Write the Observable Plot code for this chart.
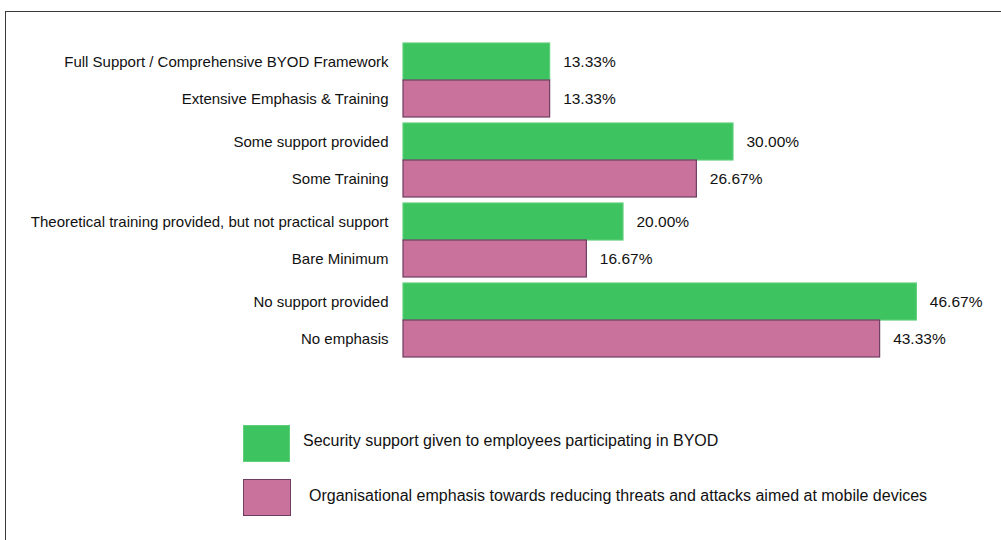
<!DOCTYPE html>
<html>
<head>
<meta charset="utf-8">
<script src="https://cdn.jsdelivr.net/npm/d3@7"></script>
<script src="https://cdn.jsdelivr.net/npm/@observablehq/plot@0.6"></script>
<style>
  html, body { margin: 0; padding: 0; background: #fff; }
  body { width: 1001px; height: 540px; position: relative; overflow: hidden; font-family: "Liberation Sans", Arial, sans-serif; color: #111; }
  #frame { position: absolute; left: 5px; top: 11px; width: 1100px; height: 600px; border-top: 1.5px solid #3a3a3a; border-left: 1.5px solid #3a3a3a; box-sizing: border-box; }
  #chart { position: absolute; left: 0; top: 0; }
  .lg-box { position: absolute; box-sizing: border-box; }
  .lg-text { position: absolute; font-size: 16px; line-height: 1; transform: translateY(-50%); white-space: nowrap; }
</style>
</head>
<body>
<div id="frame"></div>
<div id="chart"></div>
<div class="lg-box" id="box0" style="left:243px;top:425px;width:47px;height:37px;"></div>
<div class="lg-text" id="txt0" style="left:303px;top:441px;"></div>
<div class="lg-box" id="box1" style="left:243px;top:479px;width:48px;height:37px;"></div>
<div class="lg-text" id="txt1" style="left:309px;top:496px;"></div>
<script>
// ---- data ----
const groups = ["g1", "g2", "g3", "g4"];
const seriesNames = [
  "Security support given to employees participating in BYOD",
  "Organisational emphasis towards reducing threats and attacks aimed at mobile devices"
];
const supportLabels = [
  "Full Support / Comprehensive BYOD Framework",
  "Some support provided",
  "Theoretical training provided, but not practical support",
  "No support provided"
];
const emphasisLabels = [
  "Extensive Emphasis & Training",
  "Some Training",
  "Bare Minimum",
  "No emphasis"
];
const supportValues = [13.33, 30.00, 20.00, 46.67];
const emphasisValues = [13.33, 26.67, 16.67, 43.33];
const fills = ["#3dc35f", "#c9739c"];
const strokes = ["#5fcf7a", "#6e3d62"];

// ---- table ----
const rows = [];
groups.forEach((g, i) => {
  rows.push({group: g, series: seriesNames[0], label: supportLabels[i], value: supportValues[i]});
  rows.push({group: g, series: seriesNames[1], label: emphasisLabels[i], value: emphasisValues[i]});
});

const chart = Plot.plot({
  width: 1001,
  height: 380,
  marginTop: 42,
  marginBottom: 23,
  marginLeft: 403,
  marginRight: 48,
  style: {fontFamily: "'Liberation Sans', Arial, sans-serif", background: "transparent", overflow: "visible"},
  x: {domain: [0, 50], axis: null},
  y: {domain: seriesNames, axis: null, padding: 0},
  fy: {domain: groups, axis: null, padding: 0.08},
  color: {domain: seriesNames, range: fills},
  marks: [
    Plot.barX(rows, {
      fy: "group", y: "series", x: "value",
      fill: "series",
      stroke: d => d.series === seriesNames[0] ? strokes[0] : strokes[1],
      strokeWidth: 1.2,
      insetTop: 0, insetBottom: 0
    }),
    Plot.text(rows, {
      fy: "group", y: "series", x: 0, text: "label",
      textAnchor: "end", dx: -15, fontSize: 15, fill: "#111"
    }),
    Plot.text(rows, {
      fy: "group", y: "series", x: "value",
      text: d => d.value.toFixed(2) + "%",
      textAnchor: "start", dx: 13, fontSize: 15.5, fill: "#111"
    })
  ]
});
document.getElementById("chart").appendChild(chart);

// ---- legend ----
[0, 1].forEach(i => {
  const b = document.getElementById("box" + i);
  b.style.background = fills[i];
  b.style.border = (i === 0 ? "1px solid " : "1.5px solid ") + strokes[i];
  document.getElementById("txt" + i).textContent = seriesNames[i];
});
</script>
</body>
</html>
